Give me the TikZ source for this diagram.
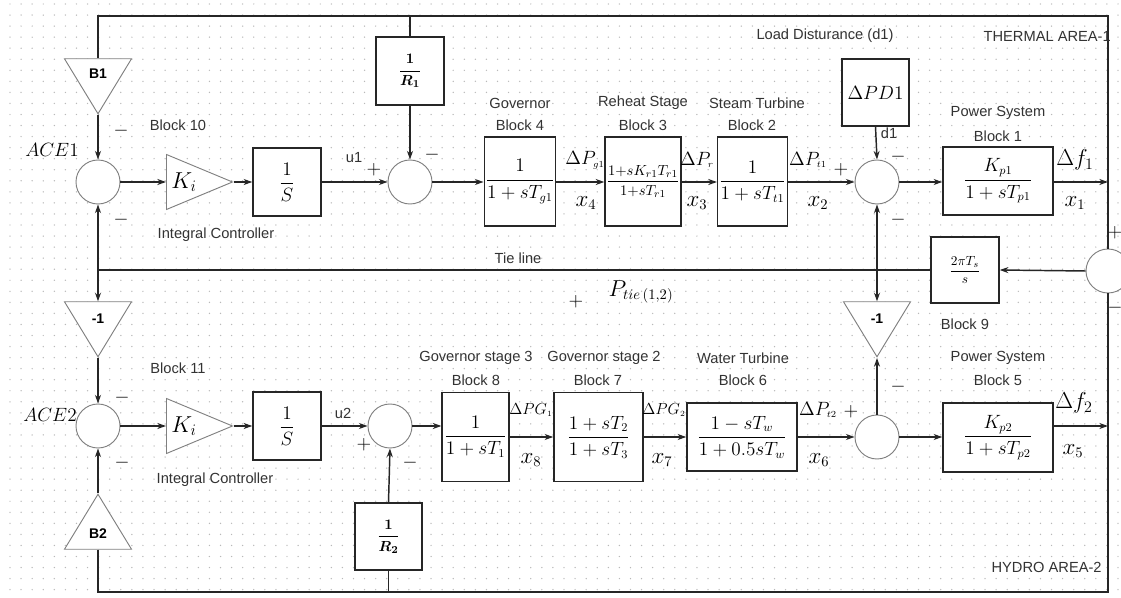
\documentclass[tikz,border=0pt]{standalone}
\usepackage{amsmath}
\usepackage{fontspec}
\setmainfont{Liberation Sans}
\usetikzlibrary{arrows.meta, positioning, shapes.geometric}

\begin{document}
\begin{tikzpicture}[
    x=0.75pt, y=-0.75pt,
    >={Stealth[length=6.5pt,width=4.5pt]},
    wire/.style={line width=1.1pt, draw=black!85},
    arr/.style={wire, ->},
    lbl/.style={font=\fontsize{11}{13}\selectfont, text=black!80, inner sep=1pt},
    mlbl/.style={font=\fontsize{15}{17}\selectfont, inner sep=1pt},
    sgn/.style={font=\fontsize{14}{16}\selectfont, inner sep=0pt},
    blk/.style={draw=black!85, line width=1.1pt, fill=white, inner sep=1pt, font=\fontsize{13.5}{15}\selectfont},
    sumc/.style={circle, draw=gray, line width=0.7pt, fill=white, minimum size=33pt, inner sep=0pt},
    tri/.style={isosceles triangle, isosceles triangle stretches, draw=gray, line width=0.7pt, fill=white, inner sep=0pt, font=\fontsize{10.5}{12}\selectfont\bfseries},
    vtri/.style={tri, minimum width=50.25pt, minimum height=41.25pt},
    htri/.style={tri, minimum width=41.25pt, minimum height=49.5pt, font=\fontsize{17}{19}\selectfont},
]
\useasboundingbox (0,0) rectangle (1121,598);
\clip (0,0) rectangle (1121,598);
\fill[white] (0,0) rectangle (1121,598);
% dotted grid
\foreach \gx in {0,...,100} {
    \foreach \gy in {0,...,53} {
        \fill[gray!55] (10+\gx*11.08, 4+\gy*11.05) circle (0.55pt);
    }
}
% === frame corners and junctions ===
\coordinate (tl) at (98,16);
\coordinate (tr) at (1108,16);
\coordinate (bl) at (98,592);
\coordinate (br) at (1108,592);
\coordinate (tj1) at (98,270);
\coordinate (tj2) at (877,270);
% === AREA 1 (thermal) ===
\node[sumc] (ace1) at (98,182) {};
\node[vtri, shape border rotate=270, anchor=apex] (b1) at (98,115) {B1};
\node[htri, anchor=lower side] (ki1) at (166,182) {$K_i$};
\node[blk, minimum width=51pt, minimum height=51pt] (int1) at (287,182) {$\dfrac{1}{S}$};
\node[sumc] (s1) at (410,182) {};
\node[blk, minimum width=51pt, minimum height=51pt, font=\fontsize{11}{13}\selectfont] (rr1) at (410,71) {$\boldsymbol{\dfrac{1}{R_1}}$};
\node[blk, minimum width=51pt, minimum height=66.75pt] (gov1) at (520,181.5) {\raisebox{6pt}{$\dfrac{1}{1+sT_{g1}}$}};
\node[blk, minimum width=51.75pt, minimum height=66.75pt, font=\fontsize{11}{13}\selectfont] (reh1) at (643,181.5) {$\dfrac{1{+}sK_{r1}T_{r1}}{1{+}sT_{r1}}$};
\node[blk, minimum width=50pt, minimum height=66.75pt] (tur1) at (752.5,181.5) {$\dfrac{1}{1+sT_{t1}}$};
\node[sumc] (s2) at (877,182) {};
\node[blk, minimum width=50pt, minimum height=50pt] (pd1) at (875.5,92.5) {$\Delta PD1$};
\node[blk, minimum width=82.5pt, minimum height=51pt] (ps1) at (998,181) {$\dfrac{K_{p1}}{1+sT_{p1}}$};
% === tie line ===
\node[sumc] (st) at (1108,271) {};
\node[blk, minimum width=51pt, minimum height=49.5pt, font=\fontsize{10}{12}\selectfont] (tie) at (965,270) {$\dfrac{2\pi T_s}{s}$};
\node[vtri, shape border rotate=270, anchor=apex] (n1) at (98,358) {-1};
\node[vtri, shape border rotate=270, anchor=apex] (n2) at (877,358) {-1};
% === AREA 2 (hydro) ===
\node[sumc] (ace2) at (98,426) {};
\node[vtri, shape border rotate=90, anchor=apex] (b2) at (98,493) {B2};
\node[htri, anchor=lower side] (ki2) at (166,426) {$K_i$};
\node[blk, minimum width=51pt, minimum height=51pt] (int2) at (287,426) {$\dfrac{1}{S}$};
\node[sumc] (s3) at (390,426) {};
\node[blk, minimum width=50pt, minimum height=50pt, font=\fontsize{11}{13}\selectfont] (rr2) at (388.5,536.5) {$\boldsymbol{\dfrac{1}{R_2}}$};
\node[blk, minimum width=50pt, minimum height=66.75pt] (gs3) at (475.5,437) {$\dfrac{1}{1+sT_1}$};
\node[blk, minimum width=66.75pt, minimum height=66.75pt] (gs2) at (598.5,437) {$\dfrac{1+sT_2}{1+sT_3}$};
\node[blk, minimum width=82.5pt, minimum height=51pt] (wt) at (742,437) {$\dfrac{1-sT_w}{1+0.5sT_w}$};
\node[sumc] (s4) at (877,437) {};
\node[blk, minimum width=82.5pt, minimum height=51.75pt] (ps2) at (998,437.5) {$\dfrac{K_{p2}}{1+sT_{p2}}$};
% === connectors, area 1 ===
\draw[wire] (b1.lower side) -- (tl) -- (tr) -- (st.north);
\draw[wire] (rr1.north) -- (rr1.north |- tl);
\draw[arr] (b1.apex) -- (ace1.north);
\draw[arr] (ace1.east) -- (ki1.lower side);
\draw[arr] (ki1.apex) -- (int1.west);
\draw[arr] (int1.east) -- (s1.west);
\draw[arr] (rr1.south) -- (s1.north);
\draw[arr] (s1.east) -- (gov1.west |- s1);
\draw[arr] (gov1.east |- s1) -- (reh1.west |- s1);
\draw[arr] (reh1.east |- s1) -- (tur1.west |- s1);
\draw[arr] (tur1.east |- s1) -- (s2.west);
\draw[arr] (pd1.south) -- (s2.north);
\draw[arr] (s2.east) -- (ps1.west |- s2);
\draw[arr] (ps1.east |- s2) -- (tr |- s2);
% === tie line connectors ===
\draw[arr] (st.west) -- (tie.east);
\draw[wire] (tie.west) -- (tj1);
\draw[arr] (tj1) -- (ace1.south);
\draw[arr] (tj1) -- (n1.lower side);
\draw[arr] (tj2) -- (s2.south);
\draw[arr] (tj2) -- (n2.lower side);
% === connectors, area 2 ===
\draw[arr] (n1.apex) -- (ace2.north);
\draw[arr] (b2.apex) -- (ace2.south);
\draw[wire] (b2.lower side) -- (bl) -- (br) -- (st.south);
\draw[wire] (rr2.south) -- (rr2.south |- bl);
\draw[arr] (rr2.north) -- (s3.south);
\draw[arr] (ace2.east) -- (ki2.lower side);
\draw[arr] (ki2.apex) -- (int2.west);
\draw[arr] (int2.east) -- (s3.west);
\draw[arr] (s3.east) -- (gs3.west |- s3);
\draw[arr] (gs3.east) -- (gs2.west);
\draw[arr] (gs2.east) -- (wt.west);
\draw[arr] (wt.east) -- (s4.west);
\draw[arr] (s4.north) -- (n2.apex);
\draw[arr] (s4.east) -- (ps2.west |- s4);
\draw[arr] (ps2.east |- s3) -- (br |- s3);
% === text labels ===
\foreach \x/\y/\t [count=\i] in {178/125/Block 10, 216/235/Integral Controller, 354/158/u1,
    520/103/Governor, 520/125/Block 4, 643/103/Reheat Stage, 643/125/Block 3,
    757/103/Steam Turbine, 752/125/Block 2, 825/36/Load Disturance (d1), 889/133/d1,
    998/113/Power System, 998/136/Block 1, 518/258/Tie line, 965/324/Block 9,
    178/368/Block 11, 215/480/Integral Controller, 343/413/u2,
    476/358/Governor stage 3, 476/380/Block 8, 604/358/Governor stage 2, 598/380/Block 7,
    743/358/Water Turbine, 743/380/Block 6, 998/358/Power System, 998/380/Block 5} {
    \node[lbl] (t\i) at (\x,\y) {\t};
}
\node[lbl, anchor=west] (area1) at (982,36) {THERMAL AREA-1};
\node[lbl, anchor=west] (area2) at (990,567) {HYDRO AREA-2};
% === signal names ===
\node[mlbl, font=\fontsize{14}{16}\selectfont] (e1) at (52,150) {$ACE1$};
\node[mlbl, font=\fontsize{14}{16}\selectfont] (e2) at (50,415) {$ACE2$};
\foreach \x/\y/\t [count=\i] in {585/160/\Delta P_{\scriptscriptstyle g1}, 697/160/\Delta P_{\scriptscriptstyle r},
    808/160/\Delta P_{\scriptscriptstyle t1}, 818/410/\Delta P_{\scriptscriptstyle t2}} {
    \node[mlbl] (d\i) at (\x,\y) {$\t$};
}
\node[mlbl, font=\fontsize{12.5}{14}\selectfont] (g1) at (531,410) {$\Delta PG_{\scriptscriptstyle 1}$};
\node[mlbl, font=\fontsize{12.5}{14}\selectfont] (g2) at (664,410) {$\Delta PG_{\scriptscriptstyle 2}$};
\node[mlbl, font=\fontsize{18}{20}\selectfont] (df1) at (1075,160) {$\Delta f_1$};
\node[mlbl, font=\fontsize{18}{20}\selectfont] (df2) at (1074,403) {$\Delta f_2$};
\foreach \x/\y/\t [count=\i] in {586/203/4, 697/203/3, 818/203/2, 1075/203/1,
    531/460/8, 662/460/7, 819/460/6, 1073/451/5} {
    \node[mlbl, font=\fontsize{16}{18}\selectfont] (x\i) at (\x,\y) {$x_\t$};
}
\node[mlbl, font=\fontsize{16}{18}\selectfont] (ptie) at (641,292) {$P_{tie\,(1,2)}$};
% === signs ===
\foreach \x/\y [count=\i] in {374/170, 841/170, 1115/233, 364/445, 851/412, 576/302} {
    \node[sgn] (p\i) at (\x,\y) {$+$};
}
\foreach \x/\y [count=\i] in {121/131, 121/220, 432/155, 898/157, 898/220, 1115/308,
    122/398, 122/463, 410/463, 898/387} {
    \node[sgn] (m\i) at (\x,\y) {$-$};
}
\end{tikzpicture}
\end{document}
